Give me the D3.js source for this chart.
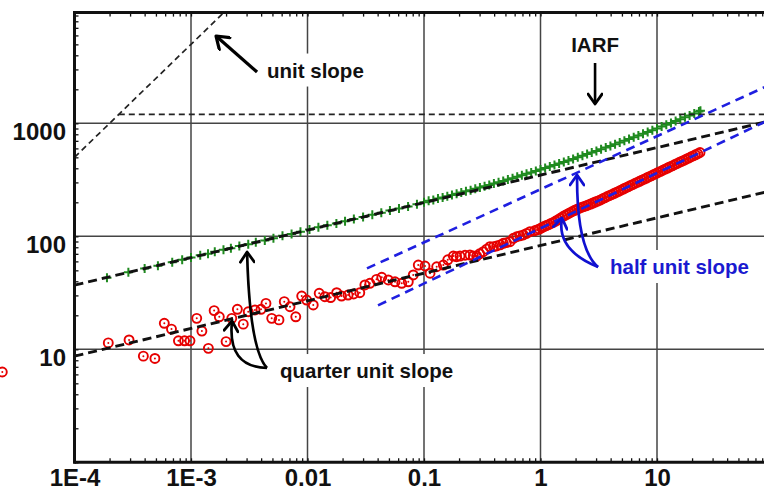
<!DOCTYPE html>
<html>
<head>
<meta charset="utf-8">
<script src="https://cdn.jsdelivr.net/npm/d3@7"></script>
<style>
  body { margin: 0; background: #fff; }
  svg { display: block; font-family: "Liberation Sans", Arial, sans-serif; }
</style>
</head>
<body>
<svg id="chart" width="764" height="492"></svg>
<script>
const width = 764, height = 492;

const xTicks = [1e-4, 1e-3, 0.01, 0.1, 1, 10];
const xTickLabels = ["1E-4", "1E-3", "0.01", "0.1", "1", "10"];
const yTicks = [10, 100, 1000];
const yTickLabels = ["10", "100", "1000"];

// green "+" series: [time, value]
const greenPoints = [
  [1.9e-4, 43], [2.9e-4, 48], [4.0e-4, 52], [5.2e-4, 55], [6.9e-4, 59], [8.4e-4, 62],
  [1.0e-3, 65], [1.2e-3, 68], [1.4e-3, 70], [1.6e-3, 73], [1.9e-3, 76], [2.2e-3, 78.5],
  [2.6e-3, 82], [3.1e-3, 85], [3.6e-3, 88.5], [4.3e-3, 92], [5.1e-3, 96], [6.1e-3, 101],
  [7.3e-3, 105], [8.7e-3, 110], [0.0104, 115], [0.0124, 120], [0.0148, 125], [0.0177, 130],
  [0.021, 136], [0.025, 142], [0.030, 148], [0.036, 155], [0.043, 162], [0.051, 169],
  [0.061, 176], [0.073, 184], [0.087, 192], [0.1, 200], [0.1096, 206], [0.1202, 210],
  [0.1318, 216], [0.1445, 221], [0.1585, 226], [0.1738, 232], [0.1905, 238], [0.2089, 244],
  [0.2291, 250], [0.2512, 256], [0.2754, 263], [0.302, 270], [0.3311, 277], [0.3631, 285],
  [0.3981, 293], [0.4365, 301], [0.4786, 309], [0.5248, 318], [0.5754, 327], [0.631, 337],
  [0.6918, 347], [0.7586, 357], [0.8318, 367], [0.912, 378], [1.0, 390], [1.096, 402],
  [1.202, 414], [1.318, 427], [1.445, 441], [1.585, 455], [1.738, 469], [1.905, 484],
  [2.089, 500], [2.291, 517], [2.512, 534], [2.754, 552], [3.02, 570], [3.311, 590],
  [3.631, 610], [3.981, 631], [4.365, 653], [4.786, 677], [5.248, 700], [5.754, 726],
  [6.31, 752], [6.918, 779], [7.586, 808], [8.318, 838], [9.12, 869], [10.0, 902],
  [10.96, 936], [12.02, 971], [13.18, 1009], [14.45, 1048], [15.85, 1089], [17.38, 1131],
  [19.05, 1176], [20.89, 1223], [22.91, 1272], [23.6, 1295]
];

// red circle series: [time, value]
const redPoints = [
  [2.4e-5, 6.3], [1.95e-4, 11.4], [2.94e-4, 12.1], [3.9e-4, 8.7], [4.9e-4, 8.3], [5.9e-4, 17],
  [6.8e-4, 15.1], [7.8e-4, 11.9], [8.8e-4, 11.9], [9.8e-4, 11.9], [1.12e-3, 18.8], [1.24e-3, 14.5],
  [1.41e-3, 10.2], [1.58e-3, 22], [1.75e-3, 19.4], [2.0e-3, 11.7], [2.24e-3, 18.8], [2.5e-3, 22.6],
  [2.81e-3, 16.7], [3.1e-3, 21.5], [3.54e-3, 22.3], [3.99e-3, 22.6], [4.4e-3, 25.5], [4.93e-3, 18.8],
  [5.69e-3, 18.2], [6.32e-3, 26.4], [7.08e-3, 23.8], [7.93e-3, 19.4], [8.92e-3, 29.6], [9.84e-3, 27.3],
  [0.0112, 24.7], [0.0126, 31.3], [0.0141, 29.2], [0.0158, 28.7], [0.0178, 31.7], [0.0196, 29.6],
  [0.0223, 30.2], [0.0249, 30.9], [0.0281, 31.7], [0.0311, 37.1], [0.0343, 38.4], [0.0391, 41.6],
  [0.0434, 43.4], [0.0494, 41.1], [0.0564, 39.6], [0.0644, 38.4], [0.0733, 39.6], [0.0809, 45.5],
  [0.0893, 55.7], [0.102, 54.6], [0.1127, 47.1], [0.1285, 53.8], [0.1466, 55.7], [0.16, 62],
  [0.1786, 66.9], [0.19, 66], [0.2037, 66.9], [0.225, 68], [0.248, 68.3], [0.265, 67],
  [0.2831, 66.9], [0.30, 70], [0.3228, 73.1], [0.345, 77], [0.3681, 80.9], [0.395, 81],
  [0.4205, 82.1], [0.45, 84], [0.4797, 86.7], [0.51, 88], [0.547, 89.6], [0.585, 96],
  [0.625, 99.1], [0.665, 101], [0.712, 102.8], [0.76, 106], [0.812, 109.9], [0.891, 112],
  [0.933, 114], [0.977, 116], [1.023, 119], [1.072, 122], [1.122, 124.5], [1.175, 127],
  [1.23, 130], [1.288, 133], [1.349, 136.5], [1.413, 140], [1.479, 144.5], [1.549, 149],
  [1.622, 153], [1.698, 157], [1.778, 161], [1.862, 165], [1.95, 169], [2.042, 173],
  [2.138, 176.5], [2.239, 180], [2.344, 183], [2.455, 186], [2.57, 189.5], [2.692, 193],
  [2.818, 197], [2.951, 201], [3.09, 205], [3.236, 209], [3.388, 214], [3.548, 219],
  [3.715, 224], [3.89, 229], [4.074, 234], [4.266, 239], [4.467, 244.5], [4.677, 250],
  [4.898, 256], [5.129, 262], [5.37, 268], [5.623, 274], [5.888, 280.5], [6.166, 287],
  [6.457, 293.5], [6.761, 300], [7.079, 307], [7.413, 314], [7.762, 321], [8.128, 328],
  [8.511, 335.5], [8.913, 343], [9.333, 351], [9.772, 359], [10.23, 367.5], [10.72, 376],
  [11.22, 384.5], [11.75, 393], [12.3, 402], [12.88, 411], [13.49, 420.5], [14.13, 430],
  [14.79, 440], [15.49, 450], [16.22, 460], [16.98, 470], [17.78, 481], [18.62, 492],
  [19.5, 503.5], [20.42, 515], [21.38, 526.5], [22.39, 538], [23.4, 552]
];

// straight reference lines, endpoints in data units
const unitSlopeLine = [[1e-4, 500], [1.9e-3, 9500]];
const iarfLine = [[2.4e-4, 1200], [100, 1200]];
const quarterUpper = [[1e-4, 37], [100, 1068]];
const quarterLower = [[1e-4, 8.7], [100, 256]];
const halfUpper = [[0.0324, 52], [100, 2270]];
const halfLower = [[0.0403, 24.5], [100, 1120]];

const svg = d3.select("#chart");

const x = d3.scaleLog().domain([1e-4, 100]).range([74.5, 773.5]);
const y = d3.scaleLog().domain([1, 9550]).range([462.3, 12.6]);

const plotLeft = x(1e-4), plotBottom = y(1), plotTop = y(9550);

// minor tick values (2..9 per decade)
const minorX = [];
[1e-4, 1e-3, 1e-2, 1e-1, 1, 10].forEach(d => { for (let k = 1; k <= 9; k++) minorX.push(d * k); });
const minorY = [];
[1, 10, 100, 1000].forEach(d => { for (let k = 1; k <= 9; k++) if (d * k < 9550) minorY.push(d * k); });

// grid
const grid = svg.append("g").attr("stroke", "#444").attr("stroke-width", 1.5);
grid.selectAll(".gx").data(xTicks.slice(1)).join("line")
  .attr("x1", d => x(d)).attr("x2", d => x(d))
  .attr("y1", plotTop).attr("y2", plotBottom);
grid.selectAll(".gy").data(yTicks).join("line")
  .attr("x1", plotLeft).attr("x2", width)
  .attr("y1", d => y(d)).attr("y2", d => y(d));

// white boxes behind labels are added here later
const boxLayer = svg.append("g");

// data
const lineGen = d3.line().x(d => x(d[0])).y(d => y(d[1]));

svg.append("g").selectAll("path").data(greenPoints).join("path")
  .attr("transform", d => `translate(${x(d[0])},${y(d[1])})`)
  .attr("d", "M-4.5,0H4.5M0,-4.5V4.5")
  .attr("stroke", "#1f8a1f")
  .attr("stroke-width", 2)
  .attr("fill", "none");

const red = svg.append("g");
red.selectAll("circle.o").data(redPoints).join("circle")
  .attr("class", "o")
  .attr("cx", d => x(d[0])).attr("cy", d => y(d[1]))
  .attr("r", 4.5)
  .attr("fill", "none")
  .attr("stroke", "#e60000")
  .attr("stroke-width", 1.9);
red.selectAll("circle.c").data(redPoints).join("circle")
  .attr("class", "c")
  .attr("cx", d => x(d[0])).attr("cy", d => y(d[1]))
  .attr("r", 1)
  .attr("fill", "#e60000");

// slope lines
const drawLine = (pts, color, w, dash) =>
  svg.append("path").datum(pts)
    .attr("d", lineGen)
    .attr("fill", "none")
    .attr("stroke", color)
    .attr("stroke-width", w)
    .attr("stroke-dasharray", dash);

drawLine(unitSlopeLine, "#222", 1.7, "6,4");
drawLine(iarfLine, "#222", 1.7, "6,4");
drawLine(quarterUpper, "#111", 2.9, "9,5");
drawLine(quarterLower, "#111", 2.9, "9,5");
drawLine(halfUpper, "#1f1fe0", 2.6, "9,6");
drawLine(halfLower, "#1f1fe0", 2.6, "9,6");

// arrows
const defs = svg.append("defs");
function marker(id, color, size) {
  defs.append("marker")
    .attr("id", id)
    .attr("viewBox", "-1 -8 14 16")
    .attr("refX", 11).attr("refY", 0)
    .attr("markerWidth", size).attr("markerHeight", size * 16 / 14)
    .attr("markerUnits", "userSpaceOnUse")
    .attr("orient", "auto")
    .append("path")
    .attr("d", "M1,-7L11,0L1,7")
    .attr("fill", "none")
    .attr("stroke", color)
    .attr("stroke-width", 2.8)
    .attr("stroke-linecap", "round")
    .attr("stroke-linejoin", "round");
}
marker("headBlack", "#000", 14);
marker("headBig", "#000", 16);
marker("headBlue", "#1010d0", 14);

const straightArrows = [
  {from: [3.69e-3, 2844], to: [1.64e-3, 5927], head: "headBig", color: "#000", w: 3.2},
  {from: [2.94, 3419], to: [2.94, 1482], head: "headBlack", color: "#000", w: 2.6}
];
straightArrows.forEach(a => {
  svg.append("line")
    .attr("x1", x(a.from[0])).attr("y1", y(a.from[1]))
    .attr("x2", x(a.to[0])).attr("y2", y(a.to[1]))
    .attr("stroke", a.color).attr("stroke-width", a.w)
    .attr("marker-end", `url(#${a.head})`);
});

// curved arrows: start, control, end (data units)
const curvedArrows = [
  {pts: [[4.49e-3, 6.83], [2.04e-3, 6.97], [2.25e-3, 17.8]], head: "headBlack", color: "#000"},
  {pts: [[4.49e-3, 6.83], [3.18e-3, 9.96], [3.03e-3, 72.6]], head: "headBlack", color: "#000"},
  {pts: [[3.12, 53.5], [1.36, 75.7], [1.53, 145]], head: "headBlue", color: "#1010d0"},
  {pts: [[3.12, 53.5], [2.04, 77.2], [2.06, 349]], head: "headBlue", color: "#1010d0"}
];
curvedArrows.forEach(a => {
  const [p0, c, p1] = a.pts;
  const p = d3.path();
  p.moveTo(x(p0[0]), y(p0[1]));
  p.quadraticCurveTo(x(c[0]), y(c[1]), x(p1[0]), y(p1[1]));
  svg.append("path")
    .attr("d", p.toString())
    .attr("fill", "none")
    .attr("stroke", a.color)
    .attr("stroke-width", 2.7)
    .attr("marker-end", `url(#${a.head})`);
});

// annotation labels
const notes = [
  {text: "unit slope", at: [4.49e-3, 2543], anchor: "start", color: "#111"},
  {text: "IARF", at: [2.94, 4276], anchor: "middle", color: "#111"},
  {text: "quarter unit slope", at: [5.81e-3, 5.57], anchor: "start", color: "#111"},
  {text: "half unit slope", at: [3.95, 46.4], anchor: "start", color: "#1a1ad0"}
];
notes.forEach(n => {
  const t = svg.append("text")
    .attr("x", x(n.at[0])).attr("y", y(n.at[1]))
    .attr("text-anchor", n.anchor)
    .attr("font-size", "20.5px")
    .attr("font-weight", "bold")
    .attr("fill", n.color)
    .text(n.text);
  const b = t.node().getBBox();
  boxLayer.append("rect")
    .attr("x", b.x - 5).attr("y", b.y - 5)
    .attr("width", b.width + 10).attr("height", b.height + 10)
    .attr("fill", "#fff");
});

// axes: minor ticks
svg.append("g").attr("transform", `translate(0,${plotBottom})`)
  .call(d3.axisBottom(x).tickValues(minorX).tickSize(-4).tickFormat(""))
  .call(g => g.select(".domain").remove())
  .selectAll("line").attr("stroke", "#111").attr("stroke-width", 1.3);
svg.append("g").attr("transform", `translate(0,${plotTop})`)
  .call(d3.axisTop(x).tickValues(minorX).tickSize(-4).tickFormat(""))
  .call(g => g.select(".domain").remove())
  .selectAll("line").attr("stroke", "#111").attr("stroke-width", 1.3);
svg.append("g").attr("transform", `translate(${plotLeft},0)`)
  .call(d3.axisLeft(y).tickValues(minorY).tickSize(-4).tickFormat(""))
  .call(g => g.select(".domain").remove())
  .selectAll("line").attr("stroke", "#111").attr("stroke-width", 1.3);

// frame
const frame = svg.append("g").attr("stroke", "#111").attr("stroke-width", 3).attr("fill", "none");
frame.append("line").attr("x1", plotLeft).attr("x2", plotLeft).attr("y1", plotTop - 1.5).attr("y2", plotBottom + 1.5);
frame.append("line").attr("x1", plotLeft).attr("x2", width).attr("y1", plotBottom).attr("y2", plotBottom);
frame.append("line").attr("x1", plotLeft).attr("x2", width).attr("y1", plotTop).attr("y2", plotTop);

// tick labels
const xAxis = svg.append("g").attr("transform", `translate(0,${plotBottom})`)
  .call(d3.axisBottom(x).tickValues(xTicks).tickSize(0).tickPadding(7)
    .tickFormat((d, i) => xTickLabels[i]));
xAxis.select(".domain").remove();
xAxis.selectAll("text")
  .attr("font-family", "Liberation Sans, Arial, sans-serif")
  .attr("font-size", "24px").attr("font-weight", "bold").attr("fill", "#111");

const yAxis = svg.append("g").attr("transform", `translate(${plotLeft},0)`)
  .call(d3.axisLeft(y).tickValues(yTicks).tickSize(0).tickPadding(8.5)
    .tickFormat((d, i) => yTickLabels[i]));
yAxis.select(".domain").remove();
yAxis.selectAll("text")
  .attr("dy", "0.68em")
  .attr("font-family", "Liberation Sans, Arial, sans-serif")
  .attr("font-size", "24px").attr("font-weight", "bold").attr("fill", "#111");
</script>
</body>
</html>
